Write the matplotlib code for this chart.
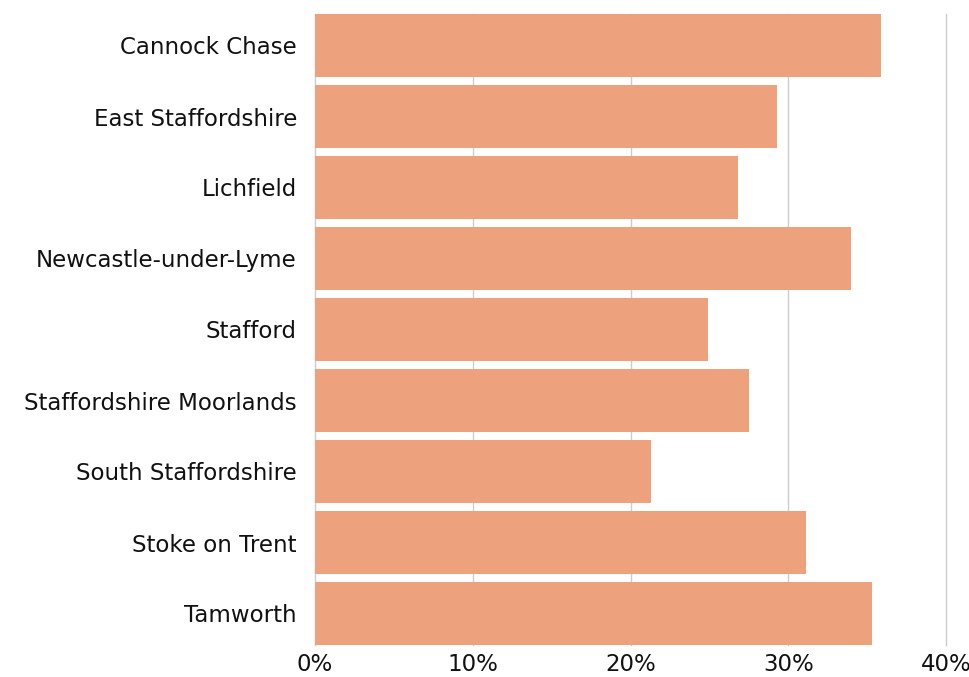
import matplotlib.pyplot as plt
from matplotlib.ticker import PercentFormatter

plt.rcParams['font.family'] = ['DejaVu Sans']

areas = ['Cannock Chase', 'East Staffordshire', 'Lichfield', 'Newcastle-under-Lyme',
         'Stafford', 'Staffordshire Moorlands', 'South Staffordshire', 'Stoke on Trent',
         'Tamworth']
shares = [0.359, 0.293, 0.268, 0.340, 0.249, 0.275, 0.213, 0.311, 0.353]

fig = plt.figure(figsize=(9.7, 6.77), dpi=100)
ax = fig.add_axes([315/970, 1 - 645/677, (946-315)/970, (645-14)/677])

h = 63/71
ax.barh(range(len(areas)), shares, height=h, color='#eda27d', zorder=2)
ax.set_ylim(len(areas) - 1 + h/2, -h/2)
ax.set_xlim(0, 0.4)
ax.set_xticks([0, 0.1, 0.2, 0.3, 0.4])
ax.xaxis.set_major_formatter(PercentFormatter(1.0, decimals=0))
ax.set_yticks(range(len(areas)))
ax.set_yticklabels(areas)
ax.grid(axis='x', color='#cccccc', linewidth=1, zorder=0)
for gl in ax.get_xgridlines():
    gl.set_clip_on(False)
for s in ax.spines.values():
    s.set_visible(False)
ax.tick_params(length=0, labelsize=16.5, colors='#111111')
ax.tick_params(axis='y', pad=13)
ax.tick_params(axis='x', pad=6)

fig.savefig('out.png', dpi=100)
